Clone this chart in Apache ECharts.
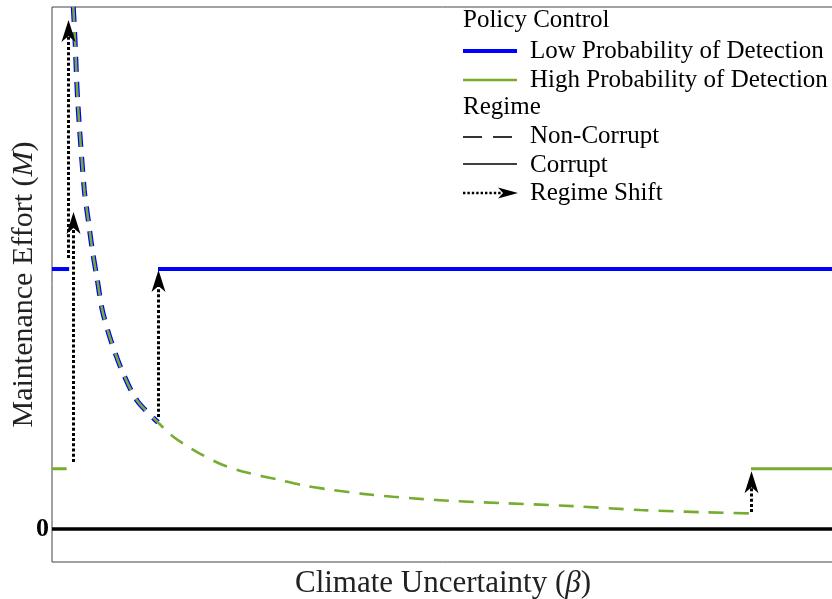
<!DOCTYPE html>
<html>
<head>
<meta charset="utf-8">
<script src="https://cdn.jsdelivr.net/npm/echarts@6/dist/echarts.min.js"></script>
<style>
  html, body { margin: 0; padding: 0; background: #fff; }
  #chart { width: 832px; height: 599px; }
</style>
</head>
<body>
<div id="chart"></div>
<script>
// Non-corrupt maintenance effort as a function of climate uncertainty
const curveBeta = [0.0273, 0.0295, 0.0329, 0.0414, 0.0465, 0.0517, 0.0581, 0.0645, 0.0753, 0.0894,
  0.1086, 0.1359, 0.1555, 0.1855, 0.2192, 0.2538, 0.2881, 0.3265, 0.3603, 0.3987, 0.4372, 0.4756,
  0.5188, 0.5829, 0.6679, 0.7538, 0.8394, 0.8962];
const curveEffort = [2.008, 1.881, 1.650, 1.304, 1.188, 1.073, 0.958, 0.842, 0.727, 0.612,
  0.496, 0.410, 0.355, 0.297, 0.246, 0.214, 0.191, 0.165, 0.150, 0.135, 0.124, 0.115,
  0.107, 0.099, 0.088, 0.073, 0.064, 0.060];

// Corrupt-regime effort levels
const corruptLow = 1.0;    // low probability of detection
const corruptHigh = 0.232; // high probability of detection

// Beta ranges of the corrupt segments [start, end]
const lowCorruptRanges = [[0, 0.022], [0.1359, 1.0026]];
const highCorruptRanges = [[0, 0.0188], [0.8962, 1.0026]];
// Where the low-detection non-corrupt branch ends
const lowCurveEnd = 0.1359;

// Regime shifts: beta, effort before, effort after
const shiftBeta = [0.0205, 0.0273, 0.1359, 0.8962];
const shiftFrom = [1.042, 0.258, 0.431, 0.065];
const shiftTo = [1.958, 1.219, 0.996, 0.222];

const BLUE = '#0000ff';
const GREEN = '#77ac30';
const SERIF = '"Liberation Serif", "DejaVu Serif", serif';

const curvePairs = curveBeta.map((b, i) => [b, curveEffort[i]]);
const lowCurve = curvePairs.filter(p => p[0] <= lowCurveEnd + 1e-9);
const segs = (ranges, level) => ranges.map(r => [[r[0], level], [r[1], level]]);

const series = [];
// blue non-corrupt branch drawn under the green one
series.push({
  type: 'line', data: lowCurve, showSymbol: false, smooth: 0.3, z: 2, clip: true,
  lineStyle: { color: BLUE, width: 5, type: [15, 10] }
});
series.push({
  type: 'line', data: curvePairs, showSymbol: false, smooth: 0.3, z: 3, clip: true,
  lineStyle: { color: GREEN, width: 2.6, type: [15, 10] }
});
segs(lowCorruptRanges, corruptLow).forEach(d => series.push({
  type: 'line', data: d, showSymbol: false, z: 3,
  lineStyle: { color: BLUE, width: 4 }
}));
segs(highCorruptRanges, corruptHigh).forEach(d => series.push({
  type: 'line', data: d, showSymbol: false, z: 3,
  lineStyle: { color: GREEN, width: 3 }
}));
// zero line
series.push({
  type: 'line', data: [[0, 0], [1.0026, 0]], showSymbol: false, z: 3,
  lineStyle: { color: '#000', width: 3.5 }
});
// regime shift arrows
series.push({
  type: 'custom', z: 5,
  data: shiftBeta.map((b, i) => [b, shiftFrom[i], shiftTo[i]]),
  renderItem: function (params, api) {
    const p0 = api.coord([api.value(0), api.value(1)]);
    const p1 = api.coord([api.value(0), api.value(2)]);
    const headLen = 22, headW = 7, notch = 6;
    const x = Math.round(p0[0]) + 0.5;
    return {
      type: 'group',
      children: [
        {
          type: 'line',
          shape: { x1: x, y1: p0[1], x2: x, y2: p1[1] + headLen - notch },
          style: { stroke: '#000', lineWidth: 3, lineDash: [3, 2.2], lineCap: 'butt' }
        },
        {
          type: 'polygon',
          shape: { points: [[x, p1[1]], [x + headW, p1[1] + headLen], [x, p1[1] + headLen - notch], [x - headW, p1[1] + headLen]] },
          style: { fill: '#000' }
        }
      ]
    };
  }
});

// legend drawn as graphics
const LX = 463, TX = 530;
const legendFont = '25px ' + SERIF;
const legendText = (x, y, t) => ({
  type: 'text', x: x, y: y,
  style: { text: t, font: legendFont, fill: '#000', verticalAlign: 'middle', align: 'left' }
});
const graphic = [
  legendText(LX, 20, 'Policy Control'),
  { type: 'line', shape: { x1: LX, y1: 51, x2: 517, y2: 51 }, style: { stroke: BLUE, lineWidth: 4 } },
  legendText(TX, 51, 'Low Probability of Detection'),
  { type: 'line', shape: { x1: LX, y1: 80, x2: 517, y2: 80 }, style: { stroke: GREEN, lineWidth: 2.6 } },
  legendText(TX, 80, 'High Probability of Detection'),
  legendText(LX, 107, 'Regime'),
  { type: 'line', shape: { x1: LX, y1: 137, x2: 482, y2: 137 }, style: { stroke: '#000', lineWidth: 1.6 } },
  { type: 'line', shape: { x1: 493, y1: 137, x2: 512, y2: 137 }, style: { stroke: '#000', lineWidth: 1.6 } },
  legendText(TX, 136, 'Non-Corrupt'),
  { type: 'line', shape: { x1: LX, y1: 164, x2: 517, y2: 164 }, style: { stroke: '#000', lineWidth: 1.6 } },
  legendText(TX, 165, 'Corrupt'),
  { type: 'line', shape: { x1: LX, y1: 193, x2: 502, y2: 193 }, style: { stroke: '#000', lineWidth: 2.4, lineDash: [2.4, 2] } },
  { type: 'polygon', shape: { points: [[518, 193], [498, 187.5], [503, 193], [498, 198.5]] }, style: { fill: '#000' } },
  legendText(TX, 193, 'Regime Shift')
];

const chart = echarts.init(document.getElementById('chart'), null, { renderer: 'canvas' });
chart.setOption({
  animation: false,
  backgroundColor: '#fff',
  grid: {
    left: 52, right: -2, top: 7, bottom: 37, containLabel: false, outerBoundsMode: 'none',
    show: true, borderColor: '#444', borderWidth: 1, backgroundColor: 'transparent'
  },
  xAxis: {
    type: 'value', min: 0, max: 1.0026,
    axisLine: { show: false }, axisTick: { show: false }, axisLabel: { show: false }, splitLine: { show: false },
    name: 'Climate Uncertainty ({i|β})', nameLocation: 'middle', nameGap: 6, nameMoveOverlap: false,
    nameTextStyle: {
      fontFamily: SERIF, fontSize: 31, color: '#222', verticalAlign: 'top',
      rich: { i: { fontFamily: SERIF, fontSize: 31, fontStyle: 'italic', color: '#222' } }
    }
  },
  yAxis: {
    type: 'value', min: -0.127, max: 2.008,
    axisLine: { show: false }, axisTick: { show: false }, splitLine: { show: false },
    axisLabel: {
      customValues: [0], formatter: v => (Math.abs(v) < 1e-9 ? '0' : ''),
      fontFamily: SERIF, fontSize: 26, fontWeight: 'bold', color: '#000', margin: 3
    },
    name: 'Maintenance Effort ({i|M})', nameLocation: 'middle', nameGap: 28, nameRotate: 90, nameMoveOverlap: false,
    nameTextStyle: {
      fontFamily: SERIF, fontSize: 30, color: '#222', verticalAlign: 'middle',
      rich: { i: { fontFamily: SERIF, fontSize: 30, fontStyle: 'italic', color: '#222' } }
    }
  },
  series: series,
  graphic: graphic
});
</script>
</body>
</html>
